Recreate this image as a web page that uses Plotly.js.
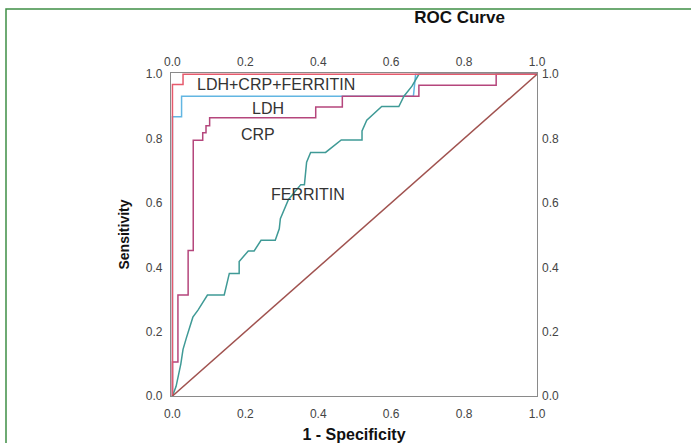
<!DOCTYPE html>
<html>
<head>
<meta charset="utf-8">
<script src="https://cdn.plot.ly/plotly-3.0.1.min.js"></script>
<style>html,body{margin:0;padding:0;background:#fff;}#chart{width:691px;height:443px;}</style>
</head>
<body>
<div id="chart"></div>
<script>
// 1 - Specificity (x) and Sensitivity (y) for each ROC curve
const combinedX = [0, 0, 0.029, 0.029, 1];
const combinedY = [0, 0.968, 0.968, 1, 1];

const ldhX = [0, 0, 0.025, 0.025, 0.661, 0.667, 1];
const ldhY = [0, 0.868, 0.868, 0.932, 0.932, 1, 1];

const crpX = [0, 0, 0.015, 0.015, 0.043, 0.043, 0.057, 0.057, 0.083, 0.083, 0.092, 0.092, 0.102, 0.102, 0.393, 0.393, 0.466, 0.466, 0.676, 0.676, 0.888, 0.888, 1];
const crpY = [0, 0.106, 0.106, 0.314, 0.314, 0.452, 0.452, 0.795, 0.795, 0.818, 0.818, 0.84, 0.84, 0.865, 0.865, 0.898, 0.898, 0.932, 0.932, 0.966, 0.966, 1, 1];

const ferritinX = [0, 0.01, 0.023, 0.029, 0.038, 0.056, 0.07, 0.096, 0.142, 0.156, 0.183, 0.183, 0.208, 0.224, 0.243, 0.282, 0.293, 0.296, 0.318, 0.352, 0.362, 0.368, 0.379, 0.42, 0.463, 0.52, 0.52, 0.533, 0.574, 0.621, 0.635, 0.657, 0.676, 1];
const ferritinY = [0, 0.03, 0.1, 0.145, 0.18, 0.245, 0.267, 0.314, 0.314, 0.381, 0.381, 0.418, 0.451, 0.451, 0.484, 0.484, 0.52, 0.551, 0.61, 0.657, 0.657, 0.727, 0.757, 0.757, 0.796, 0.796, 0.824, 0.857, 0.9, 0.9, 0.932, 0.963, 1, 1];

const refX = [0, 1];
const refY = [0, 1];

const tickVals = [0, 0.2, 0.4, 0.6, 0.8, 1.0];
const tickText = ["0.0", "0.2", "0.4", "0.6", "0.8", "1.0"];

const curveLabels = ["LDH+CRP+FERRITIN", "LDH", "CRP", "FERRITIN"];
const labelX = [0.284, 0.263, 0.236, 0.371];
const labelY = [0.968, 0.894, 0.813, 0.627];

const FONT = "Liberation Sans, Arial, sans-serif";
const W = 1.5;

const traces = [
  {x: refX, y: refY, xaxis: 'x2', yaxis: 'y2', mode: 'lines', line: {color: '#a0524f', width: W}, hoverinfo: 'skip'},
  {x: ldhX, y: ldhY, mode: 'lines', line: {color: '#62b6e2', width: W}, name: 'LDH'},
  {x: crpX, y: crpY, mode: 'lines', line: {color: '#b5467c', width: W}, name: 'CRP'},
  {x: ferritinX, y: ferritinY, mode: 'lines', line: {color: '#3f9a96', width: W}, name: 'FERRITIN'},
  {x: combinedX, y: combinedY, mode: 'lines', line: {color: '#e65a6c', width: W}, name: 'LDH+CRP+FERRITIN'}
];

const axisCommon = {
  range: [-0.004, 1.0],
  tickvals: tickVals, ticktext: tickText,
  showgrid: false, zeroline: false,
  tickfont: {family: FONT, size: 12, color: '#444'},
  fixedrange: true
};

const annotations = curveLabels.map((t, i) => ({
  x: labelX[i], y: labelY[i], xref: 'x', yref: 'y', text: t, showarrow: false,
  font: {family: FONT, size: 16, color: '#333'}
}));

const layout = {
  width: 691, height: 443,
  margin: {l: 171, r: 154, t: 73, b: 47},
  paper_bgcolor: '#fff', plot_bgcolor: '#fff',
  showlegend: false,
  title: {text: '<b>ROC Curve</b>', x: 459.5/691, xanchor: 'center', y: 1 - 17/443, yanchor: 'middle',
          font: {family: FONT, size: 17, color: '#111'}},
  xaxis: Object.assign({}, axisCommon, {
    showline: true, linecolor: '#8a8a8a', linewidth: 1.2, mirror: true,
    ticklabelstandoff: 6,
    title: {text: '<b>1 - Specificity</b>', font: {family: FONT, size: 16, color: '#111'}, standoff: 17}
  }),
  yaxis: Object.assign({}, axisCommon, {
    range: [0, 1.004],
    showline: true, linecolor: '#8a8a8a', linewidth: 1.2, mirror: true,
    ticklabelstandoff: 5,
    title: {text: '<b>Sensitivity</b>', font: {family: FONT, size: 14, color: '#111'}, standoff: 12}
  }),
  xaxis2: Object.assign({}, axisCommon, {overlaying: 'x', side: 'top', anchor: 'y2', showline: false, ticklabelstandoff: 4}),
  yaxis2: Object.assign({}, axisCommon, {range: [0, 1.004], overlaying: 'y', side: 'right', anchor: 'x2', showline: false, ticklabelstandoff: 4}),
  annotations: annotations,
  shapes: [
    {type: 'rect', xref: 'paper', yref: 'paper',
     x0: (6 - 171) / 366, x1: 1.6, y0: -0.4, y1: (396 - 9) / 323,
     line: {color: '#3f8f46', width: 1.5}, fillcolor: 'rgba(0,0,0,0)', layer: 'below'}
  ]
};

Plotly.newPlot('chart', traces, layout, {displayModeBar: false, staticPlot: true});
</script>
</body>
</html>
